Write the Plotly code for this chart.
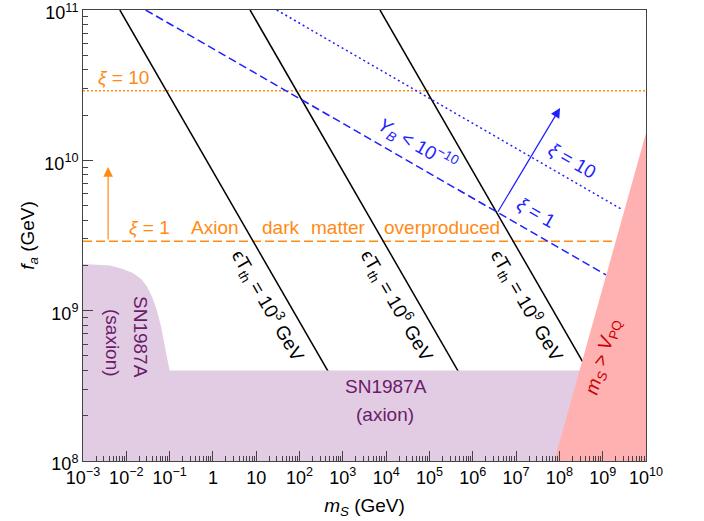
import plotly.graph_objects as go

# ---------------- data ----------------
# black lines: eps*T_th = 1e3, 1e6, 1e9 GeV (straight on log-log)
eT_labels = ["10<sup>3</sup>", "10<sup>6</sup>", "10<sup>9</sup>"]
black_m_top = [7.1e-3, 7.2, 7.2e3]        # m_S where line leaves f_a = 1e11
black_m_bot = [7.1e3, 7.2e6, 7.2e9]       # m_S where line reaches f_a = 1e8
black_fa_top = 1e11
black_fa_bot = 1e8

# baryon asymmetry lines Y_B < 1e-10
yb_xi1_m = [0.028, 1.2e9]
yb_xi1_fa = [1e11, 1.73e9]
yb_xi10_m = [29.7, 2.95e9]
yb_xi10_fa = [1e11, 4.67e9]

# axion dark matter overproduction
fa_xi1 = 2.9e9
fa_xi10 = 2.9e10
m_range = [1e-3, 1e10]

# SN1987A bounds
fa_axion = 4e8
saxion_m = [1e-3, 4.2e-3, 7.9e-3, 1.41e-2, 2.24e-2, 3.0e-2, 3.98e-2, 5.1e-2, 6.3e-2, 7.1e-2, 8.3e-2, 9.3e-2, 0.1]
saxion_fa = [2.04e9, 2.0e9, 1.9e9, 1.78e9, 1.62e9, 1.45e9, 1.23e9, 1.0e9, 7.9e8, 6.6e8, 5.25e8, 4.27e8, 4.0e8]

# m_S > V_PQ region
pq_m = [7.6e7, 1e10, 1e10]
pq_fa = [1e8, 1.52e10, 1e8]

# ticks
x_tickvals = [10.0 ** k for k in range(-3, 11)]
x_ticktext = ["10<sup>\u22123</sup>", "10<sup>\u22122</sup>", "10<sup>\u22121</sup>", "1", "10",
              "10<sup>2</sup>", "10<sup>3</sup>", "10<sup>4</sup>", "10<sup>5</sup>", "10<sup>6</sup>",
              "10<sup>7</sup>", "10<sup>8</sup>", "10<sup>9</sup>", "10<sup>10</sup>"]
y_tickvals = [1e8, 1e9, 1e10, 1e11]
y_ticktext = ["10<sup>8</sup>", "10<sup>9</sup>", "10<sup>10</sup>", "10<sup>11</sup>"]

# ---------------- style ----------------
FONT = "Liberation Sans, Arial, sans-serif"
ORANGE = "#FF8A14"
BLUE = "#1E1EFF"
PURPLE_FILL = "#E2CCE4"
PURPLE_TXT = "#6A1B6A"
PINK = "#FFB1B1"
RED_TXT = "#C80000"
FS = 19
TICKFS = 18

W, H = 704, 521
L, R, T, B = 83, 58, 10, 60
PW, PH = W - L - R, H - T - B


def px(xp, yp):
    return (xp - L) / PW, (T + PH - yp) / PH


fig = go.Figure()

# orange lines
fig.add_trace(go.Scatter(x=m_range, y=[fa_xi10, fa_xi10], mode="lines",
                         line=dict(color=ORANGE, width=1.5, dash="2px,2px"), hoverinfo="skip"))
fig.add_trace(go.Scatter(x=m_range, y=[fa_xi1, fa_xi1], mode="lines",
                         line=dict(color=ORANGE, width=1.5, dash="9px,4px"), hoverinfo="skip"))
# black lines
for mt, mb in zip(black_m_top, black_m_bot):
    fig.add_trace(go.Scatter(x=[mt, mb], y=[black_fa_top, black_fa_bot], mode="lines",
                             line=dict(color="black", width=1.5), hoverinfo="skip"))
# blue lines
fig.add_trace(go.Scatter(x=yb_xi1_m, y=yb_xi1_fa, mode="lines",
                         line=dict(color=BLUE, width=1.5, dash="8px,4px"), hoverinfo="skip"))
fig.add_trace(go.Scatter(x=yb_xi10_m, y=yb_xi10_fa, mode="lines",
                         line=dict(color=BLUE, width=1.5, dash="2px,3px"), hoverinfo="skip"))

# SN1987A region
sn_x = [1e-3] + saxion_m + [m_range[1], m_range[1], 1e-3]
sn_y = [1e8] + saxion_fa + [fa_axion, 1e8, 1e8]
fig.add_trace(go.Scatter(x=sn_x, y=sn_y, mode="lines", fill="toself", fillcolor=PURPLE_FILL,
                         line=dict(width=0, color=PURPLE_FILL), hoverinfo="skip"))
# m_S > V_PQ region
fig.add_trace(go.Scatter(x=pq_m + [pq_m[0]], y=pq_fa + [pq_fa[0]], mode="lines", fill="toself",
                         fillcolor=PINK, line=dict(width=0, color=PINK), hoverinfo="skip"))

ann = []


def text(xp, yp, s, color, angle=0, xanchor="center", size=FS):
    x, y = px(xp, yp)
    ann.append(dict(x=x, y=y, xref="paper", yref="paper", text=s, showarrow=False,
                    textangle=angle, xanchor=xanchor, yanchor="middle",
                    font=dict(family=FONT, size=size, color=color)))


# orange labels
text(96, 78, "<i>\u03be</i> = 10", ORANGE, xanchor="left")
text(127, 227, "<i>\u03be</i> = 1", ORANGE, xanchor="left")
text(189, 227, "Axion", ORANGE, xanchor="left")
text(260, 227, "dark", ORANGE, xanchor="left")
text(309, 227, "matter", ORANGE, xanchor="left")
text(382, 227, "overproduced", ORANGE, xanchor="left")

# black line labels
for cx, lab in zip([268, 397, 527], eT_labels):
    text(cx, 305, "\u03f5T<sub>th</sub> = " + lab + " GeV", "black", angle=60)

# blue labels
text(417, 144, "<i>Y</i><sub><i>B</i></sub> &lt; 10<sup>\u221210</sup>", BLUE, angle=30)
text(572, 160, "<i>\u03be</i> = 10", BLUE, angle=30)
text(536, 212, "<i>\u03be</i> = 1", BLUE, angle=30)

# SN labels
text(141, 337, "SN1987A", PURPLE_TXT, angle=90)
text(112, 343, "(saxion)", PURPLE_TXT, angle=90)
text(386, 386, "SN1987A", PURPLE_TXT)
text(385, 414, "(axion)", PURPLE_TXT)

# m_S > V_PQ label
text(603, 357, "<i>m</i><sub><i>S</i></sub> &gt; <i>V</i><sub>PQ</sub>", RED_TXT, angle=-74)

# arrows (log10 axis units)
ann.append(dict(x=-2.42, y=9.955, ax=-2.42, ay=9.463, xref="x", yref="y", axref="x", ayref="y",
                text="", showarrow=True, arrowhead=2, arrowsize=1.6, arrowwidth=1.2,
                arrowcolor=ORANGE))
ann.append(dict(x=8.016, y=10.348, ax=6.561, ay=9.648, xref="x", yref="y", axref="x", ayref="y",
                text="", showarrow=True, arrowhead=2, arrowsize=1.6, arrowwidth=1.2,
                arrowcolor=BLUE))

axis_common = dict(type="log", showgrid=False, zeroline=False, showline=True, linecolor="#444",
                   linewidth=1, mirror=True, ticks="inside", ticklen=10, tickcolor="#444",
                   automargin=False, ticklabeloverflow="allow",
                   tickfont=dict(family=FONT, size=TICKFS, color="black"),
                   minor=dict(ticks="inside", ticklen=5, tickcolor="#444", dtick="D1", showgrid=False))

fig.update_layout(
    width=W, height=H, margin=dict(l=L, r=R, t=T, b=B),
    paper_bgcolor="white", plot_bgcolor="white", showlegend=False,
    font=dict(family=FONT, size=FS, color="black"),
    xaxis=dict(range=[-3.0001, 10.0001], tickvals=x_tickvals, ticktext=x_ticktext,
               title=dict(text="<i>m</i><sub><i>S</i></sub> (GeV)", font=dict(family=FONT, size=FS), standoff=12),
               **axis_common),
    yaxis=dict(range=[7.9999, 11.0001], tickvals=y_tickvals, ticktext=y_ticktext,
               ticklabelshift=3,
               title=dict(text="<i>f</i><sub><i>a</i></sub> (GeV)", font=dict(family=FONT, size=FS), standoff=4),
               **axis_common),
    annotations=ann,
)

fig.write_html("out.html", config={"displayModeBar": False},
               post_script="document.body.style.margin='0';document.body.style.overflow='hidden';")
